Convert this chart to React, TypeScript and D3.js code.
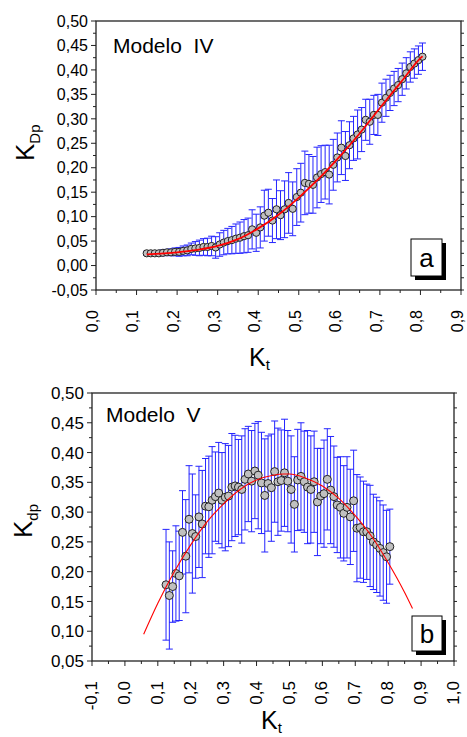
import React, { useEffect, useRef } from 'react';
import * as d3 from 'd3';

// clearness index values (shared by both panels)
const ktValues = [0.125, 0.135, 0.145, 0.155, 0.165, 0.175, 0.185, 0.195, 0.205, 0.215,
  0.225, 0.235, 0.245, 0.255, 0.265, 0.275, 0.285, 0.295, 0.305, 0.315,
  0.325, 0.335, 0.345, 0.355, 0.365, 0.375, 0.385, 0.395, 0.405, 0.415,
  0.425, 0.435, 0.445, 0.455, 0.465, 0.475, 0.485, 0.495, 0.505, 0.515,
  0.525, 0.535, 0.545, 0.555, 0.565, 0.575, 0.585, 0.595, 0.605, 0.615,
  0.625, 0.635, 0.645, 0.655, 0.665, 0.675, 0.685, 0.695, 0.705, 0.715,
  0.725, 0.735, 0.745, 0.755, 0.765, 0.775, 0.785, 0.795, 0.805];

// panel a - Modelo IV
const kdpTop = [0.025, 0.025, 0.025, 0.025, 0.026, 0.027, 0.027, 0.028, 0.028, 0.030,
  0.031, 0.034, 0.035, 0.036, 0.038, 0.038, 0.040, 0.037, 0.043, 0.047,
  0.050, 0.052, 0.055, 0.057, 0.060, 0.062, 0.074, 0.067, 0.078, 0.102,
  0.108, 0.092, 0.115, 0.103, 0.115, 0.128, 0.116, 0.140, 0.149, 0.169,
  0.167, 0.165, 0.180, 0.187, 0.191, 0.186, 0.206, 0.221, 0.241, 0.224,
  0.246, 0.260, 0.268, 0.278, 0.298, 0.294, 0.308, 0.308, 0.333, 0.343,
  0.353, 0.362, 0.369, 0.381, 0.393, 0.406, 0.413, 0.420, 0.427];

const errTop = [0.004, 0.004, 0.005, 0.005, 0.006, 0.006, 0.007, 0.008, 0.009, 0.010,
  0.011, 0.012, 0.014, 0.016, 0.017, 0.018, 0.020, 0.022, 0.024, 0.025,
  0.026, 0.028, 0.030, 0.032, 0.034, 0.035, 0.040, 0.038, 0.042, 0.052,
  0.048, 0.045, 0.060, 0.050, 0.058, 0.062, 0.055, 0.058, 0.060, 0.065,
  0.060, 0.058, 0.062, 0.058, 0.055, 0.060, 0.052, 0.050, 0.055, 0.050,
  0.048, 0.045, 0.050, 0.045, 0.042, 0.046, 0.040, 0.042, 0.040, 0.038,
  0.036, 0.035, 0.034, 0.033, 0.032, 0.031, 0.030, 0.029, 0.028];

const fitTopX = [0.125, 0.2, 0.25, 0.3, 0.35, 0.4, 0.45, 0.5, 0.55, 0.6, 0.65, 0.7, 0.75, 0.8, 0.805];
const fitTopY = [0.023, 0.027, 0.032, 0.040, 0.054, 0.076, 0.104, 0.139, 0.178, 0.222, 0.270, 0.322, 0.373, 0.424, 0.428];

// panel b - Modelo V
const kdpBottom = [0.178, 0.160, 0.175, 0.197, 0.193, 0.266, 0.226, 0.288, 0.264, 0.259,
  0.292, 0.280, 0.310, 0.309, 0.320, 0.326, 0.332, 0.320, 0.325, 0.327,
  0.342, 0.344, 0.342, 0.338, 0.355, 0.364, 0.352, 0.369, 0.362, 0.349,
  0.328, 0.348, 0.341, 0.368, 0.351, 0.353, 0.366, 0.352, 0.338, 0.313,
  0.354, 0.360, 0.351, 0.342, 0.338, 0.351, 0.317, 0.327, 0.331, 0.355,
  0.337, 0.326, 0.312, 0.308, 0.298, 0.308, 0.292, 0.319, 0.273, 0.274,
  0.267, 0.267, 0.260, 0.250, 0.245, 0.239, 0.232, 0.225, 0.242];

const errBottom = [0.093, 0.090, 0.060, 0.080, 0.075, 0.070, 0.095, 0.090, 0.100, 0.070,
  0.085, 0.090, 0.080, 0.085, 0.090, 0.075, 0.085, 0.080, 0.090, 0.085,
  0.090, 0.085, 0.080, 0.090, 0.085, 0.080, 0.085, 0.080, 0.090, 0.085,
  0.095, 0.080, 0.090, 0.085, 0.090, 0.085, 0.090, 0.085, 0.090, 0.080,
  0.085, 0.090, 0.085, 0.095, 0.090, 0.085, 0.090, 0.080, 0.090, 0.085,
  0.090, 0.085, 0.080, 0.085, 0.080, 0.085, 0.080, 0.085, 0.090, 0.085,
  0.085, 0.080, 0.085, 0.080, 0.080, 0.080, 0.080, 0.078, 0.063];

const fitBottomX = [0.057, 0.1, 0.15, 0.2, 0.25, 0.3, 0.35, 0.4, 0.45, 0.483, 0.5, 0.55, 0.6, 0.65, 0.7, 0.75, 0.8, 0.85, 0.874];
const fitBottomY = [0.095, 0.147, 0.200, 0.245, 0.284, 0.314, 0.338, 0.354, 0.362, 0.364, 0.364, 0.357, 0.344, 0.323, 0.294, 0.259, 0.215, 0.165, 0.138];

const xTicksTop = [0, 0.1, 0.2, 0.3, 0.4, 0.5, 0.6, 0.7, 0.8, 0.9];
const yTicksTop = [-0.05, 0, 0.05, 0.1, 0.15, 0.2, 0.25, 0.3, 0.35, 0.4, 0.45, 0.5];
const xTicksBottom = [-0.1, 0, 0.1, 0.2, 0.3, 0.4, 0.5, 0.6, 0.7, 0.8, 0.9, 1.0];
const yTicksBottom = [0.05, 0.1, 0.15, 0.2, 0.25, 0.3, 0.35, 0.4, 0.45, 0.5];

const FONT = '"Liberation Sans", Arial, sans-serif';

const fmt = (v: number, digits: number) => {
  const s = Math.abs(v) < 1e-9 ? (0).toFixed(digits) : v.toFixed(digits);
  return s.replace('.', ',');
};

const drawPanel = (svg: any, cfg: any) => {
  const { left, right, top, bottom, xDomain, yDomain, xTicks, yTicks, ys, errs, fitX, fitY,
    title, tag, tagBox, yLabel, yLabelPos, xLabelPos, tickFont, r, titleFont, xTickDy } = cfg;

  const x = d3.scaleLinear().domain(xDomain).range([left, right]);
  const y = d3.scaleLinear().domain(yDomain).range([bottom, top]);
  const g = svg.append('g');

  // error bars
  const eb = g.append('g').attr('stroke', '#2424ff').attr('stroke-width', 1);
  ktValues.forEach((kt, i) => {
    const cx = x(kt);
    const y1 = y(ys[i] + errs[i]);
    const y2 = y(ys[i] - errs[i]);
    eb.append('line').attr('x1', cx).attr('x2', cx).attr('y1', y1).attr('y2', y2);
    eb.append('line').attr('x1', cx - 3.5).attr('x2', cx + 3.5).attr('y1', y1).attr('y2', y1);
    eb.append('line').attr('x1', cx - 3.5).attr('x2', cx + 3.5).attr('y1', y2).attr('y2', y2);
  });

  // data points
  g.append('g').selectAll('circle')
    .data(ktValues)
    .enter()
    .append('circle')
    .attr('cx', (d: number) => x(d))
    .attr('cy', (_d: number, i: number) => y(ys[i]))
    .attr('r', r)
    .attr('fill', '#c0c0c0')
    .attr('stroke', '#222')
    .attr('stroke-width', 1);

  // fit curve
  const line = d3.line<number>()
    .x((d) => x(d))
    .y((_d, i) => y(fitY[i]))
    .curve(d3.curveMonotoneX);
  g.append('path')
    .attr('d', line(fitX))
    .attr('fill', 'none')
    .attr('stroke', '#ff0000')
    .attr('stroke-width', cfg.fitWidth);

  // frame
  g.append('rect')
    .attr('x', left).attr('y', top)
    .attr('width', right - left).attr('height', bottom - top)
    .attr('fill', 'none').attr('stroke', '#222').attr('stroke-width', 1.3);

  const axis = g.append('g').attr('stroke', '#222').attr('stroke-width', 1);

  // y ticks (left outward, right small)
  yTicks.forEach((v: number, i: number) => {
    const py = y(v);
    axis.append('line').attr('x1', left - 5).attr('x2', left).attr('y1', py).attr('y2', py);
    axis.append('line').attr('x1', right).attr('x2', right + 3).attr('y1', py).attr('y2', py);
    if (i < yTicks.length - 1) {
      const pm = y((v + yTicks[i + 1]) / 2);
      axis.append('line').attr('x1', left - 3).attr('x2', left).attr('y1', pm).attr('y2', pm);
      axis.append('line').attr('x1', right).attr('x2', right + 3).attr('y1', pm).attr('y2', pm);
    }
    g.append('text')
      .attr('x', left - 8).attr('y', py)
      .attr('dy', '0.36em')
      .attr('text-anchor', 'end')
      .attr('font-family', FONT)
      .attr('font-size', tickFont)
      .text(fmt(v, 2));
  });

  // x ticks
  xTicks.forEach((v: number, i: number) => {
    const px = x(v);
    axis.append('line').attr('x1', px).attr('x2', px).attr('y1', bottom).attr('y2', bottom + 5);
    if (i < xTicks.length - 1) {
      const pm = x((v + xTicks[i + 1]) / 2);
      axis.append('line').attr('x1', pm).attr('x2', pm).attr('y1', bottom).attr('y2', bottom + 3);
    }
    g.append('text')
      .attr('transform', `translate(${px},${bottom + 20}) rotate(-90)`)
      .attr('dy', xTickDy)
      .attr('text-anchor', 'end')
      .attr('font-family', FONT)
      .attr('font-size', tickFont)
      .text(fmt(v, 1));
  });

  // model title
  g.append('text')
    .attr('x', title.x).attr('y', title.y)
    .attr('font-family', FONT)
    .attr('font-size', titleFont)
    .attr('xml:space', 'preserve')
    .style('white-space', 'pre')
    .text(title.text);

  // panel letter box with shadow
  g.append('rect')
    .attr('x', tagBox.x + 4).attr('y', tagBox.y + 4)
    .attr('width', tagBox.w).attr('height', tagBox.h)
    .attr('fill', '#000');
  g.append('rect')
    .attr('x', tagBox.x).attr('y', tagBox.y)
    .attr('width', tagBox.w).attr('height', tagBox.h)
    .attr('fill', '#fff').attr('stroke', '#000').attr('stroke-width', 1);
  g.append('text')
    .attr('x', tagBox.x + tagBox.w / 2).attr('y', tagBox.y + tagBox.h / 2)
    .attr('dy', '0.36em')
    .attr('text-anchor', 'middle')
    .attr('font-family', FONT)
    .attr('font-size', 26)
    .text(tag);

  // y axis label
  const yl = g.append('text')
    .attr('transform', `translate(${yLabelPos[0]},${yLabelPos[1]}) rotate(-90)`)
    .attr('font-family', FONT)
    .attr('font-size', 26);
  yl.append('tspan').text('K');
  yl.append('tspan').attr('font-size', 15).attr('dy', 6).text(yLabel);

  // x axis label
  const xl = g.append('text')
    .attr('x', xLabelPos[0]).attr('y', xLabelPos[1])
    .attr('font-family', FONT)
    .attr('font-size', 25);
  xl.append('tspan').text('K');
  xl.append('tspan').attr('font-size', 15).attr('dy', 4).text('t');
};

const App = () => {
  const ref = useRef<SVGSVGElement>(null);

  useEffect(() => {
    const svg = d3.select(ref.current);
    svg.selectAll('*').remove();

    drawPanel(svg, {
      left: 96, right: 461, top: 21, bottom: 290,
      xDomain: [0, 0.9], yDomain: [-0.05, 0.5],
      xTicks: xTicksTop, yTicks: yTicksTop,
      ys: kdpTop, errs: errTop, fitX: fitTopX, fitY: fitTopY,
      title: { text: 'Modelo  IV', x: 113, y: 53 }, titleFont: 21,
      tag: 'a', tagBox: { x: 411, y: 239, w: 31, h: 37 },
      yLabel: 'Dp', yLabelPos: [34, 161], xLabelPos: [249, 366],
      tickFont: 16, r: 3.6, fitWidth: 1.8, xTickDy: '0.12em',
    });

    drawPanel(svg, {
      left: 92, right: 454, top: 393, bottom: 661,
      xDomain: [-0.1, 1.0], yDomain: [0.05, 0.5],
      xTicks: xTicksBottom, yTicks: yTicksBottom,
      ys: kdpBottom, errs: errBottom, fitX: fitBottomX, fitY: fitBottomY,
      title: { text: 'Modelo  V', x: 106, y: 422 }, titleFont: 21,
      tag: 'b', tagBox: { x: 412, y: 616, w: 30, h: 35 },
      yLabel: 'dp', yLabelPos: [32, 538], xLabelPos: [261, 729],
      tickFont: 17, r: 4, fitWidth: 1.1, xTickDy: '0.3em',
    });
  }, []);

  return (
    <svg
      ref={ref}
      width={467}
      height={737}
      style={{ position: 'absolute', left: 0, top: 0, background: '#fff' }}
    />
  );
};

export default App;
